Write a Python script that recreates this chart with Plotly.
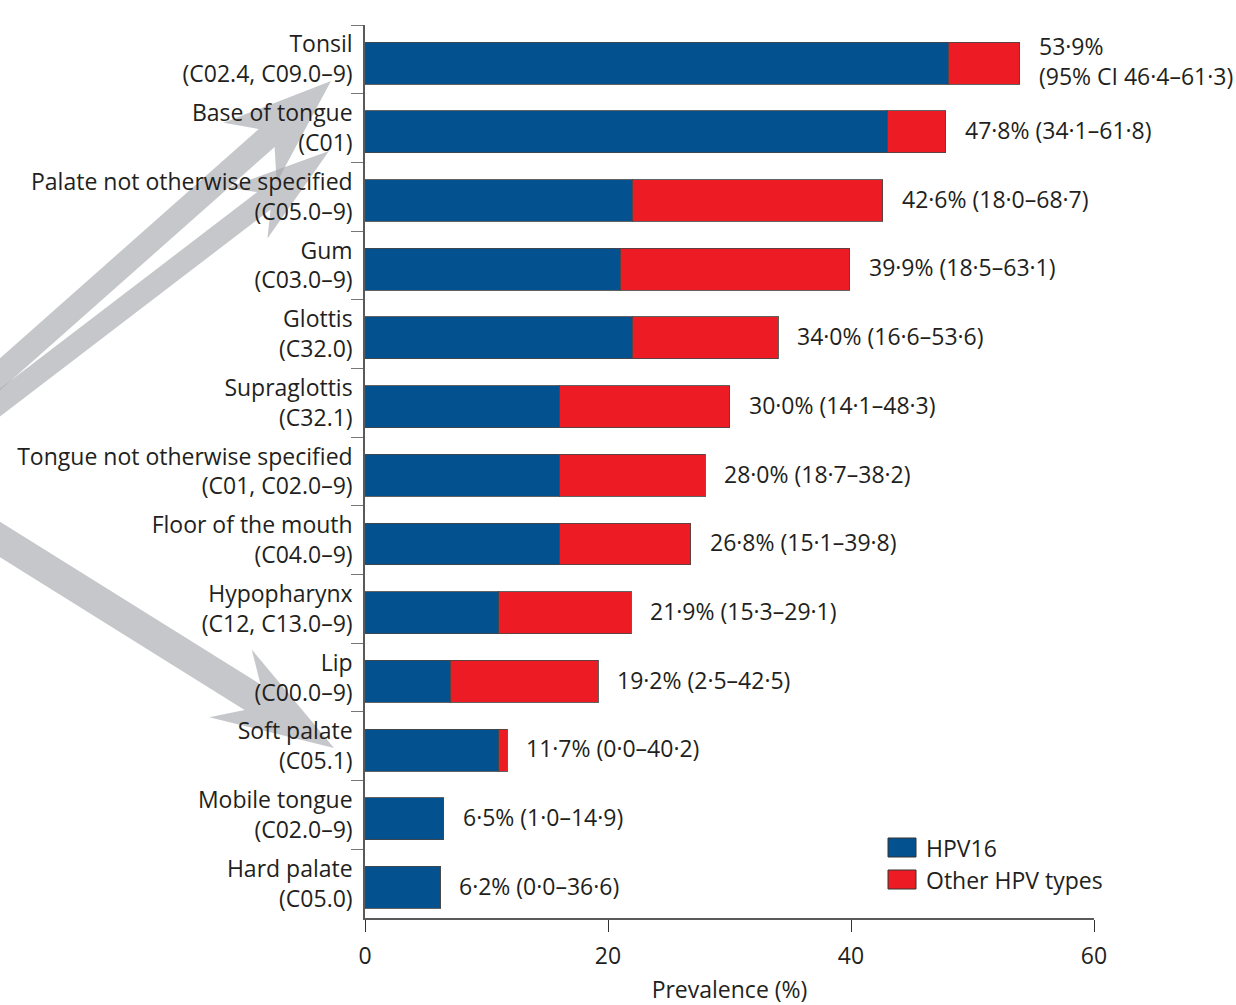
import math
import plotly.graph_objects as go

# Anatomical subsites (top to bottom) with ICD-10 codes
sites = [
    "Tonsil<br>(C02.4, C09.0–9)",
    "Base of tongue<br>(C01)",
    "Palate not otherwise specified<br>(C05.0–9)",
    "Gum<br>(C03.0–9)",
    "Glottis<br>(C32.0)",
    "Supraglottis<br>(C32.1)",
    "Tongue not otherwise specified<br>(C01, C02.0–9)",
    "Floor of the mouth<br>(C04.0–9)",
    "Hypopharynx<br>(C12, C13.0–9)",
    "Lip<br>(C00.0–9)",
    "Soft palate<br>(C05.1)",
    "Mobile tongue<br>(C02.0–9)",
    "Hard palate<br>(C05.0)",
]

# Overall HPV prevalence (%) and its 95% CI
total_prev = [53.9, 47.8, 42.6, 39.9, 34.0, 30.0, 28.0, 26.8, 21.9, 19.2, 11.7, 6.5, 6.2]
ci_low = [46.4, 34.1, 18.0, 18.5, 16.6, 14.1, 18.7, 15.1, 15.3, 2.5, 0.0, 1.0, 0.0]
ci_high = [61.3, 61.8, 68.7, 63.1, 53.6, 48.3, 38.2, 39.8, 29.1, 42.5, 40.2, 14.9, 36.6]

# HPV16 share of the prevalence (%)
hpv16_prev = [48.0, 43.0, 22.0, 21.0, 22.0, 16.0, 16.0, 16.0, 11.0, 7.0, 11.0, 6.5, 6.2]

series_names = ["HPV16", "Other HPV types"]
series_colors = ["#03518f", "#ed1c24"]

other_prev = [round(t - h, 1) for t, h in zip(total_prev, hpv16_prev)]

FONT = "Open Sans"
FS = 23
TXT = "#231f20"
AXIS = "#5a5a5a"

# plot-area geometry in pixels
FIG_W, FIG_H = 1236, 1005
M_L, M_R, M_T, M_B = 365, 142, 25, 87
PW = FIG_W - M_L - M_R
PH = FIG_H - M_T - M_B


def fmt(v):
    return f"{v:.1f}".replace(".", "·")


fig = go.Figure()
for name, vals, col in zip(series_names, [hpv16_prev, other_prev], series_colors):
    fig.add_trace(go.Bar(
        y=sites, x=vals, name=name, orientation="h",
        width=0.61, offset=-0.25,
        marker=dict(color=col, line=dict(color="rgba(70,70,70,0.85)", width=1)),
        showlegend=False,
    ))

annotations = []
for i, (s, t, lo, hi) in enumerate(zip(sites, total_prev, ci_low, ci_high)):
    if i == 0:
        txt = f"{fmt(t)}%<br>(95% CI {fmt(lo)}–{fmt(hi)})"
    else:
        txt = f"{fmt(t)}% ({fmt(lo)}–{fmt(hi)})"
    annotations.append(dict(
        x=t, y=s, xref="x", yref="y", text=txt, showarrow=False,
        xanchor="left", yanchor="middle", align="left", xshift=17, yshift=-2,
        font=dict(family=FONT, size=FS, color=TXT),
    ))


def to_paper(px, py):
    return ((px - M_L) / PW, (M_T + PH - py) / PH)


# hand-drawn legend
shapes = []
leg_x0, leg_y0, box_w, box_h, row = 888, 838, 28, 19, 32
for k, (name, col) in enumerate(zip(series_names, series_colors)):
    x0, y1 = to_paper(leg_x0, leg_y0 + k * row)
    x1, y0 = to_paper(leg_x0 + box_w, leg_y0 + k * row + box_h)
    shapes.append(dict(type="rect", xref="paper", yref="paper", x0=x0, x1=x1, y0=y0, y1=y1,
                       fillcolor=col, line=dict(color="#333333", width=1)))
    tx, ty = to_paper(leg_x0 + box_w + 8, leg_y0 + k * row + box_h / 2)
    annotations.append(dict(x=tx, y=ty, xref="paper", yref="paper", text=name, showarrow=False,
                            xanchor="left", yanchor="middle",
                            font=dict(family=FONT, size=FS, color=TXT)))


def arrow_path(tail, tip, w, head_len, notch, head_w):
    dx, dy = tip[0] - tail[0], tip[1] - tail[1]
    d = math.hypot(dx, dy)
    ux, uy = dx / d, dy / d
    nx, ny = -uy, ux
    pts = [
        (tail[0] + w * nx, tail[1] + w * ny),
        (tip[0] - notch * ux + w * nx, tip[1] - notch * uy + w * ny),
        (tip[0] - head_len * ux + head_w * nx, tip[1] - head_len * uy + head_w * ny),
        tip,
        (tip[0] - head_len * ux - head_w * nx, tip[1] - head_len * uy - head_w * ny),
        (tip[0] - notch * ux - w * nx, tip[1] - notch * uy - w * ny),
        (tail[0] - w * nx, tail[1] - w * ny),
    ]
    pp = [to_paper(x, y) for x, y in pts]
    return "M " + " L ".join(f"{x:.5f},{y:.5f}" for x, y in pp) + " Z"


# grey pointer arrows behind the site labels
arrow_specs = [
    ((-20, 392), (331, 81), 12, 108, 86, 40),
    ((-20, 418), (329, 151), 11, 102, 82, 32),
    ((-20, 527), (334, 748), 15, 122, 96, 40),
]
for tail, tip, w, hl, nt, hw in arrow_specs:
    shapes.append(dict(type="path", xref="paper", yref="paper", layer="below",
                       path=arrow_path(tail, tip, w, hl, nt, hw),
                       fillcolor="rgba(160,162,166,0.6)", line=dict(width=0)))

fig.update_layout(
    barmode="stack",
    width=FIG_W, height=FIG_H,
    margin=dict(l=M_L, r=M_R, t=M_T, b=M_B),
    paper_bgcolor="white", plot_bgcolor="white",
    font=dict(family=FONT, size=FS, color=TXT),
    shapes=shapes,
    annotations=annotations,
    xaxis=dict(
        range=[0, 60], tickvals=[0, 20, 40, 60], showgrid=False, zeroline=False,
        automargin=False,
        showline=True, linecolor=AXIS, linewidth=1.5,
        ticks="outside", ticklen=12, tickwidth=1.2, tickcolor="#333333",
        ticklabelstandoff=5,
        tickfont=dict(family=FONT, size=FS, color=TXT),
        title=dict(text="Prevalence (%)", standoff=15, font=dict(family=FONT, size=FS, color=TXT)),
    ),
    yaxis=dict(
        type="category", categoryorder="array", categoryarray=sites,
        range=[12.5, -0.5], showgrid=False, zeroline=False,
        automargin=False,
        showline=True, linecolor=AXIS, linewidth=1.5,
        ticks="outside", tickson="boundaries", ticklen=12, tickwidth=1.2, tickcolor="#777777",
        ticklabelstandoff=6,
        tickfont=dict(family=FONT, size=FS, color=TXT),
    ),
)

fig.write_html("out.html")
